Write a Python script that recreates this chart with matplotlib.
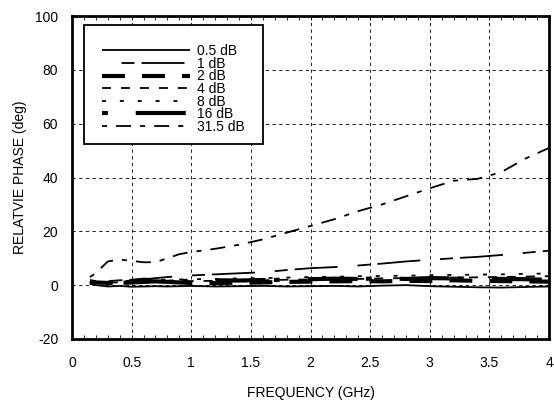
import matplotlib
matplotlib.use("Agg")
import matplotlib.pyplot as plt
from matplotlib.patches import Rectangle
from matplotlib.ticker import MultipleLocator

plt.rcParams["font.family"] = ["Liberation Sans", "DejaVu Sans"]
plt.rcParams["font.size"] = 10
plt.rcParams["axes.unicode_minus"] = False

freq = [0.15, 0.2, 0.3, 0.4, 0.5, 0.6, 0.7, 0.8, 0.9, 1.0, 1.2, 1.4, 1.6,
        1.8, 2.0, 2.2, 2.4, 2.6, 2.8, 3.0, 3.2, 3.4, 3.6, 3.8, 4.0]

att_05 = [0.5, 0.0, -0.5, -0.3, -0.6, -0.5, -0.4, -0.5, -0.4, -0.3, -0.5, -0.4, -0.3,
          -0.5, -0.4, -0.3, -0.5, -0.2, 0.0, -0.4, -0.6, -0.8, -0.9, -0.7, -0.5]
att_1 = [1.0, 1.2, 1.5, 1.8, 2.0, 2.1, 2.6, 3.0, 3.3, 3.6, 4.0, 4.4, 4.8,
         5.6, 6.3, 6.7, 7.3, 8.0, 8.8, 9.4, 10.0, 10.5, 11.2, 12.0, 12.8]
att_2 = [1.5, 1.0, 0.8, 1.0, 1.5, 2.0, 1.8, 1.2, 1.0, 0.8, 0.8, 0.9, 1.0,
         1.2, 1.3, 1.4, 1.5, 1.4, 1.6, 1.5, 1.8, 1.6, 1.5, 1.4, 1.3]
att_4 = [0.5, 0.8, 1.0, 1.0, 1.2, 1.3, 1.3, 1.4, 1.5, 1.5, 1.6, 1.7, 1.8,
         2.0, 2.1, 2.2, 2.3, 2.5, 2.6, 2.7, 2.8, 2.9, 3.0, 3.2, 3.3]
att_8 = [0.8, 1.0, 1.3, 1.5, 1.6, 1.8, 2.0, 2.0, 2.1, 2.2, 2.3, 2.5, 2.6,
         2.8, 3.0, 3.1, 3.3, 3.4, 3.5, 3.7, 3.8, 3.9, 4.0, 4.2, 4.3]
att_16 = [1.2, 1.0, 0.5, 0.8, 1.0, 1.2, 1.4, 1.2, 1.5, 1.6, 1.8, 1.7, 1.9,
          2.0, 2.2, 2.4, 2.3, 2.5, 2.3, 2.6, 2.5, 2.4, 2.3, 2.2, 2.0]
att_315 = [3.0, 4.5, 8.8, 9.5, 9.0, 8.5, 8.5, 10.0, 11.5, 12.3, 13.5, 15.0, 17.0,
           19.5, 22.0, 24.5, 27.5, 30.0, 33.0, 36.0, 38.8, 39.5, 42.0, 47.0, 51.0]

labels = ["0.5 dB", "1 dB", "2 dB", "4 dB", "8 dB", "16 dB", "31.5 dB"]
series = [att_05, att_1, att_2, att_4, att_8, att_16, att_315]

# (linewidth, (offset, dash pattern)) - dashes get scaled by linewidth
styles = [
    (1.3, None),
    (1.3, (24.0, (23.8, 11.0, 7.2, 3.9))),
    (3.0, (0, (5.5, 4.1))),
    (1.3, (0, (5.0, 5.5))),
    (1.3, (0, (2.2, 7.7))),
    (3.0, (0, (1.4, 6.7, 12.0, 2.0))),
    (1.3, (0, (2.8, 5.0, 8.3, 5.0))),
]

fig = plt.figure(figsize=(5.54, 4.03), dpi=100)
ax = fig.add_axes([0.130, 0.159, 0.861, 0.801])

for y, lab, (lw, ls) in zip(series, labels, styles):
    line, = ax.plot(freq, y, color="black", lw=lw, label=lab,
                    solid_capstyle="butt", dash_capstyle="butt")
    if ls is not None:
        line.set_linestyle(ls)

ax.set_xlim(0, 4)
ax.set_ylim(-20, 100)
ax.xaxis.set_minor_locator(MultipleLocator(0.1))
ax.yaxis.set_major_locator(MultipleLocator(20))
ax.set_xticks([0, 0.5, 1, 1.5, 2, 2.5, 3, 3.5, 4])
ax.set_xticklabels(["0", "0.5", "1", "1.5", "2", "2.5", "3", "3.5", "4"])

ax.tick_params(axis="x", which="both", direction="in", top=True, length=3,
               width=0.6, pad=12)
ax.tick_params(axis="y", which="major", length=0, pad=10)

ax.grid(True, which="major", color="black", lw=0.6, linestyle=(0, (4, 4)))

for s in ax.spines.values():
    s.set_linewidth(2)

ax.set_xlabel("FREQUENCY (GHz)", labelpad=12)
ax.set_ylabel("RELATVIE PHASE (deg)", labelpad=6)

# legend box
box = Rectangle((0.025, 0.604), 0.375, 0.368, transform=ax.transAxes,
                facecolor="white", edgecolor="black", lw=1.3, zorder=5)
ax.add_patch(box)
leg = ax.legend(loc="center", bbox_to_anchor=(0.025, 0.590, 0.375, 0.368),
                frameon=False, handlelength=6.3, handletextpad=0.5,
                labelspacing=-0.1, borderpad=0, fontsize=10)
leg.set_zorder(6)

plt.savefig("out.png", dpi=100)
